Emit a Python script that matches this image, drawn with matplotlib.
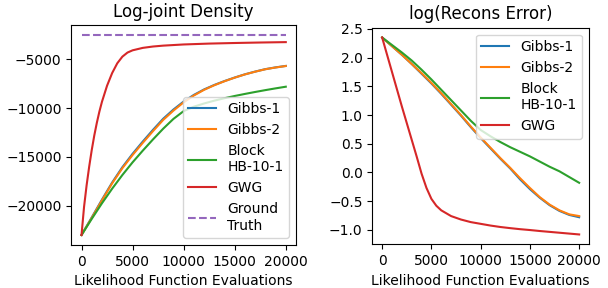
import matplotlib
matplotlib.use("Agg")
import matplotlib.pyplot as plt

# ---------------- data ----------------
evals = [0, 1000, 2000, 3000, 4000, 5000, 6000, 7000, 8000, 9000, 10000,
         11000, 12000, 13000, 14000, 15000, 16000, 17000, 18000, 19000, 20000]
gwg_evals = [0, 250, 500, 750, 1000, 1250, 1500, 1750, 2000, 2500, 3000, 3500,
             4000, 4500, 5000, 6000, 7000, 8000, 10000, 12500, 15000, 17500, 20000]

# Log-joint density
lj_gibbs1 = [-23000, -21200, -19380, -17620, -16050, -14680, -13420, -12220, -11080,
             -10140, -9320, -8640, -8080, -7620, -7220, -6860, -6530, -6250, -6000,
             -5820, -5670]
lj_gibbs2 = [-23000, -21250, -19450, -17700, -16150, -14800, -13550, -12350, -11200,
             -10250, -9400, -8700, -8120, -7650, -7240, -6870, -6540, -6260, -6010,
             -5830, -5680]
lj_block = [-23000, -21350, -19750, -18250, -16850, -15550, -14350, -13200, -12100,
            -11100, -10300, -9850, -9520, -9230, -8980, -8750, -8540, -8340, -8150,
            -7970, -7800]
lj_gwg = [-23000, -20100, -17900, -16000, -14300, -12800, -11500, -10350, -9350,
          -7700, -6400, -5400, -4720, -4300, -4070, -3820, -3680, -3590, -3470,
          -3380, -3320, -3270, -3230]
gt_evals = [0, 20000]
lj_truth = [-2500, -2500]

# log reconstruction error
re_gibbs1 = [2.35, 2.20, 2.05, 1.89, 1.72, 1.55, 1.37, 1.18, 0.99, 0.79, 0.60,
             0.42, 0.24, 0.07, -0.12, -0.29, -0.44, -0.57, -0.67, -0.74, -0.78]
re_gibbs2 = [2.35, 2.20, 2.05, 1.89, 1.73, 1.56, 1.38, 1.19, 1.00, 0.80, 0.61,
             0.43, 0.25, 0.08, -0.10, -0.27, -0.43, -0.56, -0.66, -0.73, -0.76]
re_block = [2.35, 2.22, 2.09, 1.95, 1.79, 1.62, 1.44, 1.26, 1.08, 0.90, 0.74,
            0.63, 0.53, 0.44, 0.36, 0.28, 0.19, 0.10, 0.02, -0.08, -0.18]
re_gwg_evals = [0, 500, 1000, 1500, 2000, 2500, 3000, 3500, 4000, 4500, 5000, 5500,
                6000, 7000, 8000, 9000, 10000, 11000, 12000, 13000, 14000, 15000,
                16000, 17000, 18000, 19000, 20000]
re_gwg = [2.35, 2.05, 1.75, 1.45, 1.15, 0.86, 0.57, 0.28, -0.02, -0.27, -0.46, -0.58,
          -0.66, -0.76, -0.82, -0.865, -0.895, -0.925, -0.95, -0.97, -0.988, -1.003,
          -1.02, -1.035, -1.05, -1.065, -1.08]

labels = ["Gibbs-1", "Gibbs-2", "Block\nHB-10-1", "GWG", "Ground\nTruth"]
titles = ["Log-joint Density", "log(Recons Error)"]
xlabel = "Likelihood Function Evaluations"

# ---------------- plot ----------------
fig = plt.figure(figsize=(6.08, 2.88), dpi=100)
ax1 = fig.add_axes([71.3 / 608, 1 - 245 / 288, (296 - 71.3) / 608, (245 - 25) / 288])
ax2 = fig.add_axes([372.3 / 608, 1 - 244.3 / 288, (589 - 372.3) / 608, (244.3 - 27.7) / 288])

ax1.plot(evals, lj_gibbs1, color="C0", label=labels[0])
ax1.plot(evals, lj_gibbs2, color="C1", label=labels[1])
ax1.plot(evals, lj_block, color="C2", label=labels[2])
ax1.plot(gwg_evals, lj_gwg, color="C3", label=labels[3])
ax1.plot(gt_evals, lj_truth, color="C4", linestyle="--", label=labels[4])
ax1.set_title(titles[0], fontsize=12)
ax1.set_xlabel(xlabel, fontsize=10)
ax1.set_xticks([0, 5000, 10000, 15000, 20000])
ax1.set_yticks([-5000, -10000, -15000, -20000])
ax1.legend(loc="lower right", fontsize=10)

ax2.plot(evals, re_gibbs1, color="C0", label=labels[0])
ax2.plot(evals, re_gibbs2, color="C1", label=labels[1])
ax2.plot(evals, re_block, color="C2", label=labels[2])
ax2.plot(re_gwg_evals, re_gwg, color="C3", label=labels[3])
ax2.set_title(titles[1], fontsize=12)
ax2.set_xlabel(xlabel, fontsize=10)
ax2.set_xticks([0, 5000, 10000, 15000, 20000])
ax2.set_yticks([2.5, 2.0, 1.5, 1.0, 0.5, 0.0, -0.5, -1.0])
ax2.legend(loc="upper right", fontsize=10)

for ax in (ax1, ax2):
    ax.tick_params(labelsize=10)

fig.savefig("out.png", dpi=100)
